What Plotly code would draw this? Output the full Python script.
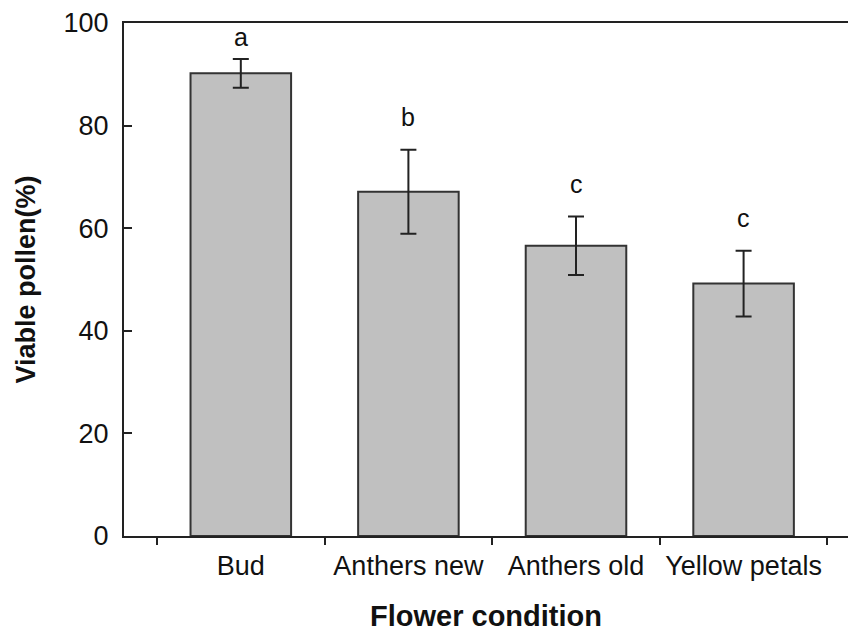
import plotly.graph_objects as go

categories = ["Bud", "Anthers new", "Anthers old", "Yellow petals"]
viable_pollen = [90.2, 67.1, 56.6, 49.2]
std_error = [2.8, 8.2, 5.7, 6.4]
letters = ["a", "b", "c", "c"]
y_ticks = [0, 20, 40, 60, 80, 100]

FONT = "Liberation Sans, Arial, sans-serif"
DARK = "#222222"

fig = go.Figure()
fig.add_trace(go.Bar(
    x=categories,
    y=viable_pollen,
    marker=dict(color="#c0c0c0", line=dict(color="#333333", width=2)),
    error_y=dict(type="data", array=std_error, visible=True,
                 color=DARK, thickness=2, width=8),
    showlegend=False,
))

for cat, m, e, lab in zip(categories, viable_pollen, std_error, letters):
    ytop = min(m + e + 6.3, 97.2)
    fig.add_annotation(x=cat, y=ytop, text=lab, showarrow=False,
                       xanchor="center", yanchor="middle",
                       font=dict(family=FONT, size=25, color="#111111"))

fig.update_layout(
    width=848, height=632,
    margin=dict(l=124, r=0, t=23, b=96),
    paper_bgcolor="white", plot_bgcolor="white",
    bargap=0.4,
    font=dict(family=FONT, color="#111111"),
    xaxis=dict(
        type="category",
        range=[-0.697, 3.623],
        tickson="boundaries",
        ticks="outside", ticklen=7, tickwidth=2, tickcolor=DARK,
        showline=True, linecolor=DARK, linewidth=2, mirror=True,
        showgrid=False, zeroline=False,
        tickfont=dict(family=FONT, size=27, color="#111111"),
        ticklabelstandoff=5,
        title=dict(text="<b>Flower condition</b>", standoff=27,
                   font=dict(family=FONT, size=29, color="#111111")),
        automargin=False,
    ),
    yaxis=dict(
        range=[0, 100],
        tickvals=y_ticks,
        ticks="inside", ticklen=8, tickwidth=1.5, tickcolor=DARK,
        showline=True, linecolor=DARK, linewidth=2,
        showgrid=False, zeroline=False,
        tickfont=dict(family=FONT, size=27, color="#111111"),
        ticklabelstandoff=8,
        title=dict(text="<b>Viable pollen(%)</b>", standoff=20,
                   font=dict(family=FONT, size=27, color="#111111")),
        automargin=False,
    ),
)

fig.write_html("out.html")
